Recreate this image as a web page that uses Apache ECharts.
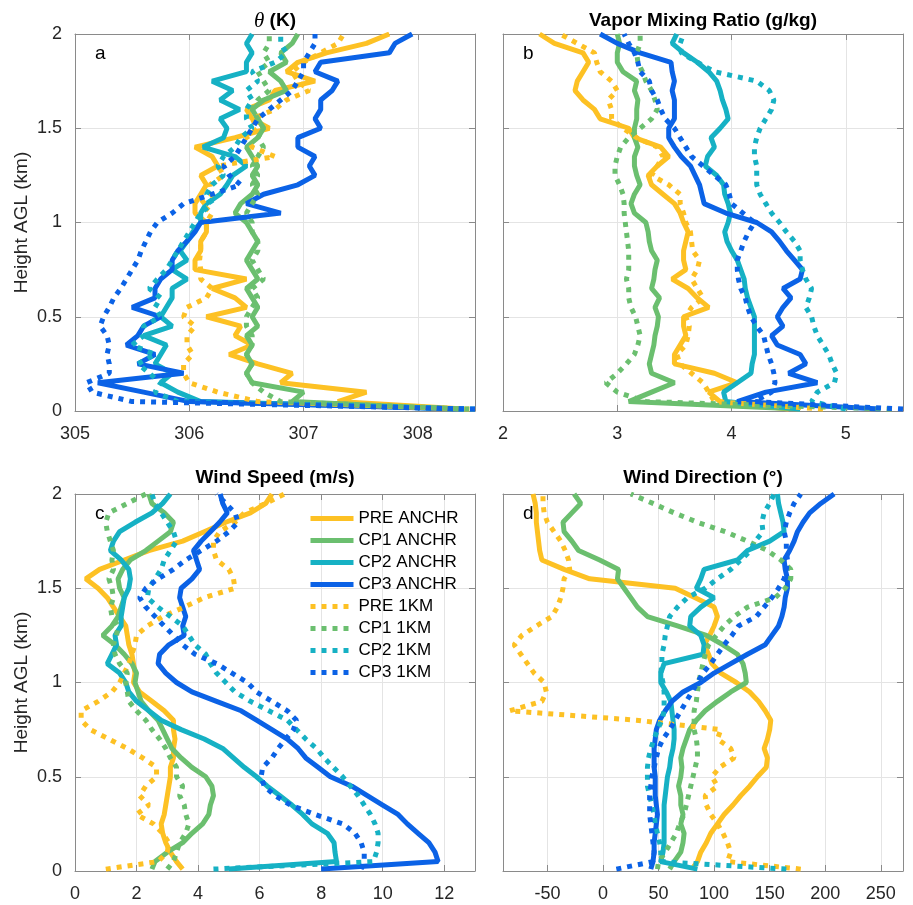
<!DOCTYPE html>
<html>
<head>
<meta charset="utf-8">
<script src="https://cdn.jsdelivr.net/npm/echarts@6/dist/echarts.min.js"></script>
<style>
html, body { margin: 0; padding: 0; background: #fff; }
#chart { width: 913px; height: 905px; }
</style>
</head>
<body>
<div id="chart"></div>
<script>
var names = ['PRE ANCHR', 'CP1 ANCHR', 'CP2 ANCHR', 'CP3 ANCHR', 'PRE 1KM', 'CP1 1KM', 'CP2 1KM', 'CP3 1KM'];
var colors = ['#FDC124', '#6BBF6F', '#16B1C4', '#0B62E6', '#FDC124', '#6BBF6F', '#16B1C4', '#0B62E6'];

// height above ground (km), shared by every profile
var heights = [0.01, 0.05, 0.1, 0.15, 0.2, 0.25, 0.3, 0.35, 0.4, 0.45, 0.5, 0.55, 0.6, 0.65, 0.7, 0.75, 0.8, 0.85, 0.9, 0.95,
  1.0, 1.05, 1.1, 1.15, 1.2, 1.25, 1.3, 1.35, 1.4, 1.45, 1.5, 1.55, 1.6, 1.65, 1.7, 1.75, 1.8, 1.85, 1.9, 1.95, 2.0];

// (a) potential temperature, K
var thetaPreA = [308.4,307.3,307.55,306.8,306.9,306.6,306.35,306.55,306.4,306.45,306.15,306.5,306.4,306.2,306.5,306.05,306.05,306.1,306.1,306.15,306.15,306.05,306.05,306.1,306.15,306.1,306.25,306.2,306.05,306.4,306.7,306.55,306.5,306.7,306.75,307.1,306.85,306.95,307.2,307.55,307.75];
var thetaCp1A = [308.3,306.9,307.0,306.55,306.5,306.55,306.5,306.55,306.5,306.6,306.55,306.6,306.55,306.5,306.6,306.55,306.5,306.55,306.6,306.55,306.5,306.4,306.45,306.55,306.6,306.55,306.6,306.55,306.5,306.6,306.65,306.6,306.55,306.65,306.85,306.8,306.7,306.85,306.8,306.9,306.95];
var thetaCp2A = [308.4,306.1,305.9,305.75,305.85,305.7,305.75,305.8,305.6,305.85,305.75,305.8,305.85,305.85,305.98,305.85,305.98,305.92,305.98,306.03,306.1,306.1,306.15,306.27,306.33,306.38,306.5,306.4,306.12,306.3,306.33,306.27,306.44,306.27,306.38,306.2,306.5,306.5,306.55,306.5,306.55];
var thetaCp3A = [308.4,306.0,305.6,305.2,305.95,305.55,305.7,305.45,305.55,305.6,305.75,305.5,305.7,305.7,305.75,305.85,305.85,305.9,305.98,306.05,306.1,306.8,306.5,306.65,306.95,307.1,307.05,307.1,306.95,306.95,307.15,307.1,307.15,307.15,307.25,307.3,307.1,307.15,307.75,307.8,307.95];
var thetaPre1 = [308.45,306.6,306.25,306.0,305.95,305.95,306.03,305.98,305.98,306.05,305.95,305.98,306.15,306.2,306.1,306.1,306.09,306.1,306.1,306.15,306.15,306.2,306.1,306.2,306.18,306.3,306.25,306.75,306.55,306.5,306.6,306.55,306.75,306.85,307.05,306.95,306.9,307.0,307.15,307.3,307.35];
var thetaCp11 = [308.45,306.8,306.65,306.55,306.5,306.55,306.5,306.55,306.55,306.5,306.5,306.55,306.6,306.55,306.65,306.6,306.55,306.6,306.6,306.55,306.55,306.5,306.55,306.6,306.55,306.6,306.55,306.6,306.65,306.6,306.65,306.6,306.55,306.6,306.7,306.65,306.6,306.7,306.65,306.7,306.7];
var thetaCp21 = [308.5,305.9,305.7,305.75,305.65,305.55,305.7,305.5,305.6,305.6,305.75,305.7,305.75,305.65,305.72,305.8,305.85,305.9,305.95,306.0,306.05,306.1,306.2,306.15,306.2,306.3,306.25,306.3,306.4,306.45,306.55,306.5,306.5,306.55,306.5,306.6,306.55,306.75,306.85,306.8,306.8];
var thetaCp31 = [308.5,305.5,305.15,305.1,305.3,305.3,305.28,305.3,305.28,305.22,305.25,305.3,305.34,305.4,305.45,305.5,305.55,305.58,305.62,305.66,305.72,305.85,305.95,306.2,306.45,306.35,306.3,306.4,306.45,306.5,306.55,306.6,306.7,306.8,306.9,306.95,307.0,307.0,307.05,307.1,307.1];

// (b) vapor mixing ratio, g/kg
var qPreA = [4.5,3.9,3.8,4.05,3.85,3.5,3.5,3.55,3.6,3.58,3.58,3.8,3.7,3.62,3.48,3.6,3.58,3.58,3.6,3.62,3.58,3.55,3.5,3.4,3.3,3.27,3.35,3.45,3.38,3.15,3.1,2.85,2.8,2.7,2.63,2.65,2.7,2.75,2.7,2.45,2.32];
var qCp1A = [4.6,3.1,3.3,3.5,3.3,3.28,3.3,3.32,3.33,3.35,3.36,3.33,3.37,3.3,3.32,3.33,3.35,3.3,3.28,3.27,3.25,3.15,3.12,3.15,3.2,3.17,3.15,3.15,3.18,3.15,3.15,3.17,3.17,3.18,3.15,3.17,3.05,3.0,3.0,3.02,3.0];
var qCp2A = [4.6,3.95,3.93,4.05,4.17,4.18,4.2,4.2,4.2,4.2,4.2,4.17,4.14,4.12,4.11,4.08,4.05,4.0,3.96,3.94,3.97,3.99,3.97,3.94,3.93,3.87,3.77,3.79,3.85,3.82,3.9,3.97,3.95,3.92,3.9,3.87,3.8,3.7,3.58,3.48,3.52];
var qCp3A = [5.3,4.05,4.3,4.75,4.5,4.65,4.6,4.4,4.35,4.45,4.4,4.45,4.52,4.45,4.6,4.62,4.55,4.48,4.42,4.35,4.22,3.95,3.76,3.74,3.72,3.68,3.64,3.56,3.5,3.45,3.45,3.5,3.5,3.5,3.48,3.5,3.48,3.47,3.2,3.0,2.85];
var qPre1 = [4.8,3.85,3.8,3.75,3.65,3.55,3.52,3.6,3.62,3.63,3.6,3.65,3.75,3.7,3.65,3.7,3.72,3.66,3.65,3.64,3.6,3.58,3.55,3.55,3.45,3.3,3.35,3.4,3.35,3.17,3.05,2.95,2.95,2.92,3.0,2.95,2.85,2.82,2.8,2.65,2.5];
var qCp11 = [5.4,3.25,3.0,2.9,3.0,3.08,3.15,3.18,3.2,3.18,3.16,3.12,3.1,3.1,3.08,3.1,3.1,3.1,3.09,3.08,3.07,3.06,3.06,3.05,3.02,2.98,2.98,3.0,3.03,3.1,3.2,3.3,3.35,3.33,3.3,3.25,3.22,3.18,3.17,3.2,3.2];
var qCp21 = [5.0,4.7,4.75,4.9,4.92,4.88,4.85,4.8,4.75,4.72,4.7,4.65,4.68,4.7,4.65,4.62,4.6,4.6,4.55,4.48,4.42,4.35,4.3,4.25,4.22,4.22,4.22,4.2,4.2,4.22,4.25,4.3,4.35,4.37,4.33,4.22,3.85,3.7,3.56,3.55,3.58];
var qCp31 = [5.5,4.2,4.35,4.38,4.37,4.35,4.32,4.3,4.28,4.22,4.17,4.14,4.12,4.08,4.06,4.05,4.05,4.08,4.11,4.15,4.2,4.1,4.0,3.98,3.95,3.85,3.75,3.65,3.6,3.55,3.5,3.42,3.38,3.35,3.3,3.28,3.2,3.18,3.15,3.1,3.06];

// (c) wind speed, m/s
var wsPreA = [3.5,3.3,3.1,2.95,2.85,2.8,2.9,2.95,3.0,3.05,3.1,3.1,3.2,3.2,3.25,3.2,3.2,2.9,2.5,2.1,1.9,1.95,1.9,1.85,1.75,1.7,1.65,1.45,1.25,1.05,0.75,0.35,0.8,1.6,2.4,3.5,4.2,4.9,5.7,6.2,6.4];
var wsCp1A = [2.5,2.6,3.0,3.5,3.8,4.15,4.35,4.4,4.5,4.45,4.25,3.8,3.45,3.15,3.0,2.85,2.7,2.4,2.15,2.05,1.95,2.0,1.85,1.6,1.3,0.9,1.2,1.4,1.5,1.6,1.45,1.4,1.55,1.8,2.3,2.7,3.1,3.2,2.9,2.5,2.4];
var wsCp2A = [5.0,8.5,8.45,8.42,8.2,7.7,7.4,7.05,6.65,6.25,5.9,5.5,5.15,4.8,4.2,3.45,2.8,2.4,2.0,1.75,1.65,1.45,1.05,1.2,1.35,1.3,1.5,1.5,1.55,1.6,1.75,1.8,1.75,1.5,1.15,1.25,1.45,1.95,2.5,2.85,3.1];
var wsCp3A = [8.0,11.8,11.7,11.5,11.15,10.8,10.5,10.0,9.5,9.0,8.3,7.9,7.5,7.25,6.9,6.4,5.9,5.4,4.6,3.8,3.3,2.95,2.7,2.75,3.05,3.55,3.5,3.6,3.5,3.4,3.45,3.8,4.05,3.95,3.85,4.1,4.4,4.7,4.95,4.8,4.72];
var wsPre1 = [1.0,2.7,3.0,3.05,2.85,2.55,2.0,2.4,2.1,2.3,2.65,2.65,2.2,1.7,1.1,0.5,0.2,0.2,0.75,1.2,1.45,1.6,1.75,1.85,1.95,2.0,2.35,2.85,3.55,4.2,5.2,5.15,5.0,4.6,4.5,4.5,4.7,5.2,5.5,6.2,6.8];
var wsCp11 = [3.0,3.2,3.3,3.4,3.6,3.7,3.6,3.55,3.4,3.5,3.3,3.3,3.1,2.95,2.75,2.5,2.3,2.0,1.75,1.7,1.65,1.7,1.45,1.3,1.25,1.35,1.4,1.2,1.15,1.25,1.2,1.1,1.25,1.2,1.25,1.15,1.05,1.0,1.1,1.7,2.3];
var wsCp21 = [4.5,9.7,9.8,9.85,9.85,9.75,9.6,9.4,9.2,8.95,8.7,8.4,8.1,7.85,7.5,7.2,6.9,6.3,5.7,5.2,4.9,4.6,4.4,4.25,3.9,3.7,3.5,3.1,2.7,2.35,2.4,2.6,2.8,2.9,3.1,3.3,3.2,3.0,2.8,2.6,2.5];
var wsCp31 = [9.3,9.4,9.4,9.3,9.1,8.7,7.8,7.0,6.5,6.15,6.05,6.1,6.4,6.6,6.85,7.1,7.2,6.9,6.4,5.9,5.6,5.1,4.6,3.9,3.5,3.2,2.9,2.6,2.3,2.1,2.3,2.7,3.2,3.6,4.1,4.6,5.0,5.3,5.2,4.9,4.6];

// (d) wind direction, degrees
var wdPreA = [80,85,88,93,97,103,109,117,124,132,139,147,148,145,148,150,151,146,140,132,120,106,98,95,91,96,100,103,100,83,65,-12,-35,-55,-57,-58,-59,-60,-60,-61,-63];
var wdCp1A = [60,64,70,72,73,70,72,70,70,68,70,71,70,72,75,78,84,92,103,115,129,128,126,121,108,93,67,40,31,25,19,13,14,-3,-22,-28,-35,-36,-28,-20,-26];
var wdCp2A = [85,52,54,55,55,55,55,55,56,57,58,60,61,63,64,64,63,62,61,57,52,52,55,90,91,88,78,79,88,100,84,88,91,121,130,150,163,162,160,158,157];
var wdCp3A = [43,45,46,46,47,48,49,48,47,47,47,46,46,46,47,48,51,56,62,72,88,100,115,130,146,152,158,161,163,164,166,166,164,163,168,172,175,180,186,196,208];
var wdPre1 = [178,112,115,112,108,103,97,93,92,103,98,105,118,115,103,106,30,-84,-55,-51,-53,-62,-68,-74,-80,-73,-60,-46,-41,-38,-36,-35,-30,-31,-34,-38,-44,-50,-53,-54,-54];
var wdCp11 = [49,50,56,61,66,69,73,75,77,79,81,83,85,85,84,82,82,82,84,85,86,88,90,92,95,102,109,118,130,155,164,169,169,160,148,130,110,85,64,45,25];
var wdCp21 = [165,52,52,51,49,47,46,44,42,40,40,40,41,43,46,49,53,55,55,55,54,52,53,53,55,56,58,60,67,76,92,103,115,124,133,137,144,143,145,150,154];
var wdCp31 = [12,45,46,45,44,43,42,42,42,43,44,46,48,50,54,60,65,70,75,80,85,90,97,103,109,116,122,138,145,152,158,163,165,166,165,165,163,165,168,172,178];

var wdTicks = [-50, 0, 50, 100, 150, 200, 250];

var font = '"Liberation Sans", Arial, Helvetica, sans-serif';
var frameColor = '#8a8a8a';
var gridColor = '#e4e4e4';
var lineW = 5;

var panels = [
    {profiles: [thetaPreA, thetaCp1A, thetaCp2A, thetaCp3A, thetaPre1, thetaCp11, thetaCp21, thetaCp31],
     min: 305, max: 308.5, interval: 1, left: 75, top: 34, title: '{t|θ} (K)', titleY: 21, letter: 'a', yLabels: true},
    {profiles: [qPreA, qCp1A, qCp2A, qCp3A, qPre1, qCp11, qCp21, qCp31],
     min: 2, max: 5.5, interval: 1, left: 503, top: 34, title: 'Vapor Mixing Ratio (g/kg)', titleY: 21, letter: 'b', yLabels: false},
    {profiles: [wsPreA, wsCp1A, wsCp2A, wsCp3A, wsPre1, wsCp11, wsCp21, wsCp31],
     min: 0, max: 13, interval: 2, left: 75, top: 494, title: 'Wind Speed (m/s)', titleY: 478, letter: 'c', yLabels: true},
    {profiles: [wdPreA, wdCp1A, wdCp2A, wdCp3A, wdPre1, wdCp11, wdCp21, wdCp31],
     min: -90, max: 270, ticks: wdTicks, left: 503, top: 494, title: 'Wind Direction (°)', titleY: 478, letter: 'd', yLabels: false}
];

function makeX(p, i, bottom) {
    var ax = {
        type: 'value', gridIndex: i, position: bottom ? 'bottom' : 'top',
        min: p.min, max: p.max,
        axisLine: {show: true, onZero: false, lineStyle: {color: frameColor, width: 1}},
        axisTick: {show: true, inside: true, length: 6, lineStyle: {color: frameColor}},
        axisLabel: {show: bottom, fontSize: 18, color: '#262626', margin: 14, fontFamily: font},
        splitLine: {show: bottom, lineStyle: {color: gridColor, width: 1}}
    };
    if (p.ticks) {
        ax.axisTick.customValues = p.ticks;
        ax.axisLabel.customValues = p.ticks;
    } else {
        ax.interval = p.interval;
        ax.axisLabel.showMaxLabel = false;
    }
    return ax;
}

function makeY(p, i, left) {
    return {
        type: 'value', gridIndex: i, position: left ? 'left' : 'right',
        min: 0, max: 2, interval: 0.5,
        axisLine: {show: true, onZero: false, lineStyle: {color: frameColor, width: 1}},
        axisTick: {show: true, inside: true, length: 6, lineStyle: {color: frameColor}},
        axisLabel: {show: left && p.yLabels, fontSize: 18, color: '#262626', margin: 13, fontFamily: font},
        splitLine: {show: left, lineStyle: {color: gridColor, width: 1}},
        name: (left && p.yLabels) ? 'Height AGL (km)' : '',
        nameLocation: 'middle', nameGap: 44,
        nameTextStyle: {fontSize: 19, color: '#262626', fontFamily: font}
    };
}

var grids = [], xAxes = [], yAxes = [], series = [], graphics = [];
panels.forEach(function (p, i) {
    grids.push({left: p.left, top: p.top, width: 400, height: 377});
    xAxes.push(makeX(p, i, true));
    yAxes.push(makeY(p, i, true));
    p.profiles.forEach(function (vals, k) {
        series.push({
            type: 'line', name: names[k], xAxisIndex: i, yAxisIndex: i,
            data: heights.map(function (h, j) { return [vals[j], h]; }),
            symbol: 'none', showSymbol: false, silent: true, z: 2 + k,
            lineStyle: {color: colors[k], width: lineW, type: k >= 4 ? [5, 6] : 'solid', cap: 'butt'},
            itemStyle: {color: colors[k]}
        });
    });
    graphics.push({
        type: 'text', x: p.left + 200, y: p.titleY,
        style: {
            text: p.title, align: 'center', verticalAlign: 'middle',
            fontSize: 19, fontWeight: 'bold', fontFamily: font, fill: '#000',
            rich: {t: {fontStyle: 'italic', fontWeight: 'normal', fontFamily: '"Liberation Serif", serif', fontSize: 21, fill: '#000'}}
        }
    });
    graphics.push({
        type: 'text', x: p.left + 20, y: p.top + 20,
        style: {text: p.letter, align: 'left', verticalAlign: 'middle', fontSize: 19, fontFamily: font, fill: '#000'}
    });
});
// frame ticks on the top and right edges
panels.forEach(function (p, i) {
    xAxes.push(makeX(p, i, false));
    yAxes.push(makeY(p, i, false));
});

var chart = echarts.init(document.getElementById('chart'), null, {renderer: 'canvas'});
chart.setOption({
    animation: false,
    backgroundColor: '#fff',
    grid: grids,
    xAxis: xAxes,
    yAxis: yAxes,
    legend: {
        data: names, orient: 'vertical', left: 308, top: 510, padding: 0,
        itemWidth: 43, itemHeight: 14, itemGap: 5,
        itemStyle: {opacity: 0, borderWidth: 0},
        lineStyle: {width: lineW},
        textStyle: {fontSize: 17, color: '#000', fontFamily: font}
    },
    graphic: graphics,
    series: series
});
</script>
</body>
</html>
